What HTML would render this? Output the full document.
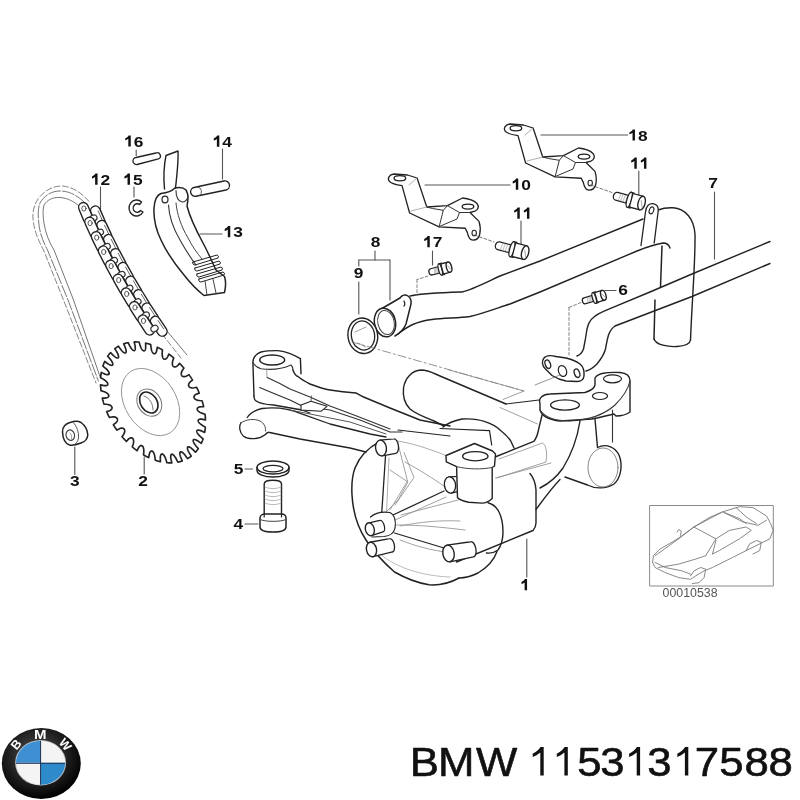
<!DOCTYPE html>
<html><head><meta charset="utf-8"><style>
html,body{margin:0;padding:0;background:#fff;width:800px;height:800px;overflow:hidden}
svg{position:absolute;left:0;top:0;will-change:transform}
</style></head><body>
<svg width="800" height="800" viewBox="0 0 800 800">
<defs>
<radialGradient id="ring" cx="0.45" cy="0.4" r="0.6">
<stop offset="0" stop-color="#555"/><stop offset="0.7" stop-color="#1a1a1a"/><stop offset="1" stop-color="#000"/>
</radialGradient>
</defs>
<!-- DIAGRAM -->
<g id="diag" stroke-linecap="round" stroke-linejoin="round" font-family="Liberation Sans" font-weight="bold" fill="#111">
<path d="M130.76,135.50 L130.76,146.60 L128.32,146.60 L128.32,138.85 C127.37,139.55 126.33,140.01 125.20,140.32 L125.20,138.38 C126.68,137.76 127.98,136.83 128.59,135.50 Z" fill="#111" stroke="none"/>
<text x="0" y="0" font-size="15.5" transform="translate(133.72 146.60) scale(1.12 1)">6</text>
<path d="M219.31,135.60 L219.31,146.70 L216.87,146.70 L216.87,138.95 C215.92,139.65 214.88,140.11 213.75,140.42 L213.75,138.48 C215.23,137.86 216.53,136.94 217.14,135.60 Z" fill="#111" stroke="none"/>
<text x="0" y="0" font-size="15.5" transform="translate(222.27 146.70) scale(1.12 1)">4</text>
<path d="M97.56,173.60 L97.56,184.70 L95.12,184.70 L95.12,176.95 C94.17,177.65 93.13,178.11 92.00,178.42 L92.00,176.48 C93.48,175.86 94.78,174.94 95.39,173.60 Z" fill="#111" stroke="none"/>
<text x="0" y="0" font-size="15.5" transform="translate(100.52 184.70) scale(1.12 1)">2</text>
<path d="M129.96,173.60 L129.96,184.70 L127.52,184.70 L127.52,176.95 C126.57,177.65 125.53,178.11 124.40,178.42 L124.40,176.48 C125.88,175.86 127.18,174.94 127.79,173.60 Z" fill="#111" stroke="none"/>
<text x="0" y="0" font-size="15.5" transform="translate(132.92 184.70) scale(1.12 1)">5</text>
<path d="M230.26,226.10 L230.26,237.20 L227.82,237.20 L227.82,229.45 C226.87,230.15 225.83,230.61 224.70,230.92 L224.70,228.98 C226.18,228.36 227.48,227.44 228.09,226.10 Z" fill="#111" stroke="none"/>
<text x="0" y="0" font-size="15.5" transform="translate(233.22 237.20) scale(1.12 1)">3</text>
<text x="0" y="0" font-size="15.5" transform="translate(69.88 486.20) scale(1.12 1)">3</text>
<text x="0" y="0" font-size="15.5" transform="translate(138.18 486.20) scale(1.12 1)">2</text>
<text x="0" y="0" font-size="15.5" transform="translate(233.68 473.70) scale(1.12 1)">5</text>
<text x="0" y="0" font-size="15.5" transform="translate(233.48 528.70) scale(1.12 1)">4</text>
<path d="M527.06,579.10 L527.06,590.20 L524.62,590.20 L524.62,582.45 C523.67,583.15 522.63,583.61 521.50,583.92 L521.50,581.99 C522.98,581.37 524.28,580.44 524.89,579.10 Z" fill="#111" stroke="none"/>
<text x="0" y="0" font-size="15.5" transform="translate(370.68 247.20) scale(1.12 1)">8</text>
<text x="0" y="0" font-size="15.5" transform="translate(353.68 278.20) scale(1.12 1)">9</text>
<path d="M429.76,236.10 L429.76,247.20 L427.32,247.20 L427.32,239.45 C426.37,240.15 425.33,240.61 424.20,240.92 L424.20,238.98 C425.68,238.36 426.98,237.44 427.59,236.10 Z" fill="#111" stroke="none"/>
<text x="0" y="0" font-size="15.5" transform="translate(432.72 247.20) scale(1.12 1)">7</text>
<path d="M518.26,178.60 L518.26,189.70 L515.82,189.70 L515.82,181.95 C514.87,182.65 513.83,183.11 512.70,183.42 L512.70,181.48 C514.18,180.86 515.48,179.94 516.09,178.60 Z" fill="#111" stroke="none"/>
<text x="0" y="0" font-size="15.5" transform="translate(521.22 189.70) scale(1.12 1)">0</text>
<path d="M519.76,207.60 L519.76,218.70 L517.32,218.70 L517.32,210.95 C516.37,211.65 515.33,212.11 514.20,212.42 L514.20,210.48 C515.68,209.86 516.98,208.94 517.59,207.60 Z" fill="#111" stroke="none"/>
<path d="M529.41,207.60 L529.41,218.70 L526.98,218.70 L526.98,210.95 C526.02,211.65 524.98,212.11 523.85,212.42 L523.85,210.48 C525.33,209.86 526.63,208.94 527.24,207.60 Z" fill="#111" stroke="none"/>
<path d="M634.96,129.50 L634.96,140.60 L632.52,140.60 L632.52,132.85 C631.57,133.55 630.53,134.01 629.40,134.32 L629.40,132.38 C630.88,131.76 632.18,130.83 632.79,129.50 Z" fill="#111" stroke="none"/>
<text x="0" y="0" font-size="15.5" transform="translate(637.92 140.60) scale(1.12 1)">8</text>
<path d="M636.76,157.60 L636.76,168.70 L634.32,168.70 L634.32,160.95 C633.37,161.65 632.33,162.11 631.20,162.42 L631.20,160.48 C632.68,159.86 633.98,158.94 634.59,157.60 Z" fill="#111" stroke="none"/>
<path d="M646.41,157.60 L646.41,168.70 L643.98,168.70 L643.98,160.95 C643.02,161.65 641.98,162.11 640.85,162.42 L640.85,160.48 C642.33,159.86 643.63,158.94 644.24,157.60 Z" fill="#111" stroke="none"/>
<text x="0" y="0" font-size="15.5" transform="translate(708.18 188.20) scale(1.12 1)">7</text>
<text x="0" y="0" font-size="15.5" transform="translate(618.18 294.70) scale(1.12 1)">6</text>
<line x1="222.5" y1="149" x2="222.5" y2="179" stroke="#555" stroke-width="1.1" />
<line x1="200" y1="234" x2="222" y2="234" stroke="#555" stroke-width="1.1" />
<line x1="74.8" y1="447" x2="74.8" y2="474.5" stroke="#555" stroke-width="1.1" />
<line x1="144.2" y1="457" x2="144.2" y2="474" stroke="#555" stroke-width="1.1" />
<line x1="245" y1="469" x2="252.5" y2="469" stroke="#555" stroke-width="1.1" />
<line x1="245" y1="524" x2="258" y2="524" stroke="#555" stroke-width="1.1" />
<line x1="526.8" y1="539" x2="526.8" y2="577" stroke="#555" stroke-width="1.1" />
<line x1="714.5" y1="192" x2="714.5" y2="259" stroke="#555" stroke-width="1.1" />
<line x1="605" y1="290.5" x2="616" y2="290.5" stroke="#555" stroke-width="1.1" />
<line x1="425" y1="185" x2="510" y2="185" stroke="#555" stroke-width="1.1" />
<line x1="521" y1="221" x2="521" y2="244" stroke="#555" stroke-width="1.1" />
<line x1="432.5" y1="251" x2="432.5" y2="265" stroke="#555" stroke-width="1.1" />
<line x1="541" y1="135" x2="627.5" y2="135" stroke="#555" stroke-width="1.1" />
<line x1="638.8" y1="171" x2="638.8" y2="195" stroke="#555" stroke-width="1.1" />
<line x1="375" y1="251" x2="375" y2="260" stroke="#555" stroke-width="1.1" />
<line x1="358.8" y1="260" x2="390" y2="260" stroke="#555" stroke-width="1.1" />
<line x1="358.8" y1="260" x2="358.8" y2="266" stroke="#555" stroke-width="1.1" />
<line x1="358.8" y1="282" x2="358.8" y2="314" stroke="#555" stroke-width="1.1" />
<line x1="390" y1="260" x2="390" y2="300" stroke="#555" stroke-width="1.1" />
<line x1="136.2" y1="150" x2="136.2" y2="155.5" stroke="#555" stroke-width="1.1" />
<line x1="134" y1="187" x2="134" y2="197" stroke="#555" stroke-width="1.1" />
<line x1="100.5" y1="187" x2="100.5" y2="212" stroke="#555" stroke-width="1.1" />
<path d="M136,157.5 L156,153 A2.9,2.9 0 0 1 158.5,158.8 L137,164.5 A3.5,3.5 0 0 1 136,157.5 Z" fill="none" stroke="#222" stroke-width="1.3" />
<path d="M141.5,202 A7.5,8 0 1 0 143,212 M141.5,202 L139.5,204.5 A4,4.3 0 1 0 140.5,210.5 L143,212" fill="none" stroke="#222" stroke-width="1.4" />
<path d="M194,187.5 L224,181 A4.5,4.6 0 0 1 226,190 L196,196.2 A4.3,4.4 0 0 1 194,187.5 Z" fill="none" stroke="#222" stroke-width="1.4" />
<path d="M197.5,187 A4.2,4.6 0 0 1 199.5,195.5" fill="none" stroke="#555" stroke-width="1.0" />
<path d="M89,201.5 C82,193 72,186.5 62,186 C52,186 44,191 38,199 C34,205 32.5,212 33,218 C33.5,228 37,238 43.5,250 L63.5,300 L96,383" fill="none" stroke="#777" stroke-width="0.9" stroke-dasharray="6 2.5"/>
<path d="M85,203 C78,196 70,191 60,191 C51,191 44,196 40,203 C38,208 38,214 38.5,220 C39,230 42,240 47.5,250 L68,300 L98.4,381" fill="none" stroke="#666" stroke-width="0.9" stroke-dasharray="12 2"/>
<path d="M80,207 C75,202 68,198 60,197.5 C53,197 47,200 44,205 C42.5,210 43,217 44,223 C45.5,233 49,242 54,250 L73.5,300 L100.5,378" fill="none" stroke="#666" stroke-width="0.9" />
<path d="M162,334 L181,358" fill="none" stroke="#777" stroke-width="0.9" stroke-dasharray="6 2.5"/>
<path d="M167,331 L187,355" fill="none" stroke="#666" stroke-width="0.9" />
<rect x="86.9" y="211.7" width="22" height="9.6" rx="4.8" fill="#fff" stroke="#222" stroke-width="1.4" transform="rotate(66.5 97.9 216.5)"/>
<path d="M98.2,210.9 L102.2,220.1" stroke="#555" stroke-width="0.9"/>
<rect x="74.8" y="208.3" width="22" height="9.6" rx="4.8" fill="#fff" stroke="#222" stroke-width="1.4" transform="rotate(67.2 85.8 213.1)"/>
<ellipse cx="93.3" cy="218.1" rx="3.0" ry="3.8" fill="#fff" stroke="#333" stroke-width="1.2" transform="rotate(67.2 93.3 218.1)"/>
<ellipse cx="83.9" cy="208.5" rx="2.1" ry="2.6" fill="none" stroke="#444" stroke-width="0.9"/>
<rect x="93.4" y="226.0" width="22" height="9.6" rx="4.8" fill="#fff" stroke="#222" stroke-width="1.4" transform="rotate(65.0 104.4 230.8)"/>
<path d="M104.5,225.2 L108.8,234.3" stroke="#555" stroke-width="0.9"/>
<rect x="81.2" y="222.9" width="22" height="9.6" rx="4.8" fill="#fff" stroke="#222" stroke-width="1.4" transform="rotate(65.7 92.2 227.7)"/>
<ellipse cx="99.8" cy="232.5" rx="3.0" ry="3.8" fill="#fff" stroke="#333" stroke-width="1.2" transform="rotate(65.7 99.8 232.5)"/>
<ellipse cx="90.1" cy="223.1" rx="2.1" ry="2.6" fill="none" stroke="#444" stroke-width="0.9"/>
<rect x="100.2" y="240.1" width="22" height="9.6" rx="4.8" fill="#fff" stroke="#222" stroke-width="1.4" transform="rotate(63.5 111.2 244.9)"/>
<path d="M111.2,239.3 L115.7,248.3" stroke="#555" stroke-width="0.9"/>
<rect x="87.9" y="237.3" width="22" height="9.6" rx="4.8" fill="#fff" stroke="#222" stroke-width="1.4" transform="rotate(64.2 98.9 242.1)"/>
<ellipse cx="106.6" cy="246.8" rx="3.0" ry="3.8" fill="#fff" stroke="#333" stroke-width="1.2" transform="rotate(64.2 106.6 246.8)"/>
<ellipse cx="96.7" cy="237.6" rx="2.1" ry="2.6" fill="none" stroke="#444" stroke-width="0.9"/>
<rect x="107.4" y="254.1" width="22" height="9.6" rx="4.8" fill="#fff" stroke="#222" stroke-width="1.4" transform="rotate(62.2 118.4 258.9)"/>
<path d="M118.2,253.3 L122.9,262.2" stroke="#555" stroke-width="0.9"/>
<rect x="95.0" y="251.6" width="22" height="9.6" rx="4.8" fill="#fff" stroke="#222" stroke-width="1.4" transform="rotate(62.9 106.0 256.4)"/>
<ellipse cx="113.8" cy="260.8" rx="3.0" ry="3.8" fill="#fff" stroke="#333" stroke-width="1.2" transform="rotate(62.9 113.8 260.8)"/>
<ellipse cx="103.7" cy="252.0" rx="2.1" ry="2.6" fill="none" stroke="#444" stroke-width="0.9"/>
<rect x="114.9" y="267.9" width="22" height="9.6" rx="4.8" fill="#fff" stroke="#222" stroke-width="1.4" transform="rotate(60.8 125.9 272.7)"/>
<path d="M125.6,267.1 L130.5,275.8" stroke="#555" stroke-width="0.9"/>
<rect x="102.5" y="265.7" width="22" height="9.6" rx="4.8" fill="#fff" stroke="#222" stroke-width="1.4" transform="rotate(61.5 113.5 270.5)"/>
<ellipse cx="121.4" cy="274.7" rx="3.0" ry="3.8" fill="#fff" stroke="#333" stroke-width="1.2" transform="rotate(61.5 121.4 274.7)"/>
<ellipse cx="111.1" cy="266.1" rx="2.1" ry="2.6" fill="none" stroke="#444" stroke-width="0.9"/>
<rect x="122.7" y="281.5" width="22" height="9.6" rx="4.8" fill="#fff" stroke="#222" stroke-width="1.4" transform="rotate(59.5 133.7 286.3)"/>
<path d="M133.3,280.7 L138.4,289.4" stroke="#555" stroke-width="0.9"/>
<rect x="110.2" y="279.6" width="22" height="9.6" rx="4.8" fill="#fff" stroke="#222" stroke-width="1.4" transform="rotate(60.2 121.2 284.4)"/>
<ellipse cx="129.2" cy="288.5" rx="3.0" ry="3.8" fill="#fff" stroke="#333" stroke-width="1.2" transform="rotate(60.2 129.2 288.5)"/>
<ellipse cx="118.7" cy="280.1" rx="2.1" ry="2.6" fill="none" stroke="#444" stroke-width="0.9"/>
<rect x="130.8" y="295.0" width="22" height="9.6" rx="4.8" fill="#fff" stroke="#222" stroke-width="1.4" transform="rotate(58.3 141.8 299.8)"/>
<path d="M141.3,294.2 L146.5,302.7" stroke="#555" stroke-width="0.9"/>
<rect x="118.3" y="293.3" width="22" height="9.6" rx="4.8" fill="#fff" stroke="#222" stroke-width="1.4" transform="rotate(58.9 129.3 298.1)"/>
<ellipse cx="137.4" cy="302.0" rx="3.0" ry="3.8" fill="#fff" stroke="#333" stroke-width="1.2" transform="rotate(58.9 137.4 302.0)"/>
<ellipse cx="126.7" cy="293.9" rx="2.1" ry="2.6" fill="none" stroke="#444" stroke-width="0.9"/>
<rect x="139.2" y="308.3" width="22" height="9.6" rx="4.8" fill="#fff" stroke="#222" stroke-width="1.4" transform="rotate(57.1 150.2 313.1)"/>
<path d="M149.6,307.5 L155.0,315.9" stroke="#555" stroke-width="0.9"/>
<rect x="126.6" y="306.9" width="22" height="9.6" rx="4.8" fill="#fff" stroke="#222" stroke-width="1.4" transform="rotate(57.7 137.6 311.7)"/>
<ellipse cx="145.8" cy="315.4" rx="3.0" ry="3.8" fill="#fff" stroke="#333" stroke-width="1.2" transform="rotate(57.7 145.8 315.4)"/>
<ellipse cx="135.0" cy="307.5" rx="2.1" ry="2.6" fill="none" stroke="#444" stroke-width="0.9"/>
<rect x="147.8" y="321.4" width="22" height="9.6" rx="4.8" fill="#fff" stroke="#222" stroke-width="1.4" transform="rotate(56.0 158.8 326.2)"/>
<path d="M158.1,320.6 L163.7,328.9" stroke="#555" stroke-width="0.9"/>
<rect x="135.3" y="320.2" width="22" height="9.6" rx="4.8" fill="#fff" stroke="#222" stroke-width="1.4" transform="rotate(56.5 146.3 325.0)"/>
<ellipse cx="154.5" cy="328.6" rx="3.0" ry="3.8" fill="#fff" stroke="#333" stroke-width="1.2" transform="rotate(56.5 154.5 328.6)"/>
<ellipse cx="143.5" cy="320.9" rx="2.1" ry="2.6" fill="none" stroke="#444" stroke-width="0.9"/>
<path d="M116.57,347.36 L116.74,347.25 L116.91,347.14 L117.09,347.03 L117.26,346.92 L117.43,346.82 L117.60,346.71 L117.78,346.60 L117.95,346.50 L118.13,346.40 L118.31,346.29 L118.48,346.19 L120.35,348.86 L121.40,350.22 L122.10,351.01 L122.64,351.57 L123.10,351.98 L123.50,352.30 L123.85,352.55 L124.17,352.73 L124.45,352.87 L124.71,352.96 L124.94,353.01 L125.15,353.03 L125.34,353.01 L125.51,352.95 L125.67,352.86 L125.80,352.74 L125.91,352.58 L126.00,352.38 L126.08,352.14 L126.13,351.85 L126.15,351.51 L126.14,351.11 L126.10,350.64 L126.00,350.06 L125.84,349.33 L125.56,348.36 L124.97,346.78 L123.72,343.84 L123.92,343.77 L124.11,343.71 L124.31,343.64 L124.51,343.58 L124.71,343.52 L124.91,343.46 L125.11,343.40 L125.31,343.34 L125.51,343.28 L125.71,343.22 L125.91,343.17 L126.11,343.11 L126.31,343.06 L126.52,343.01 L126.72,342.96 L126.93,342.91 L127.13,342.86 L127.34,342.81 L127.54,342.77 L127.75,342.72 L127.96,342.68 L128.16,342.64 L129.58,345.53 L130.41,347.04 L130.98,347.94 L131.44,348.58 L131.84,349.08 L132.20,349.48 L132.52,349.79 L132.81,350.04 L133.08,350.24 L133.33,350.40 L133.57,350.51 L133.79,350.58 L133.99,350.61 L134.18,350.61 L134.36,350.57 L134.53,350.49 L134.68,350.38 L134.82,350.23 L134.94,350.03 L135.05,349.79 L135.15,349.49 L135.22,349.13 L135.27,348.69 L135.29,348.14 L135.27,347.45 L135.17,346.50 L134.88,344.92 L134.16,341.95 L134.38,341.94 L134.60,341.94 L134.82,341.93 L135.05,341.93 L135.27,341.93 L135.49,341.93 L135.71,341.93 L135.94,341.93 L136.16,341.93 L136.38,341.94 L136.61,341.94 L136.83,341.95 L137.05,341.96 L137.28,341.96 L137.50,341.97 L137.73,341.99 L137.96,342.00 L138.18,342.01 L138.41,342.03 L138.63,342.04 L138.86,342.06 L139.09,342.08 L139.99,345.06 L140.55,346.64 L140.97,347.60 L141.32,348.30 L141.64,348.85 L141.93,349.30 L142.21,349.67 L142.47,349.98 L142.71,350.23 L142.94,350.44 L143.17,350.60 L143.39,350.72 L143.59,350.81 L143.80,350.86 L143.99,350.87 L144.18,350.85 L144.36,350.79 L144.54,350.69 L144.71,350.55 L144.88,350.36 L145.04,350.12 L145.19,349.81 L145.34,349.43 L145.47,348.95 L145.59,348.32 L145.68,347.44 L145.69,345.95 L145.55,343.09 L145.78,343.15 L146.02,343.20 L146.25,343.26 L146.48,343.31 L146.72,343.37 L146.95,343.43 L147.19,343.49 L147.42,343.55 L147.65,343.62 L147.89,343.68 L148.12,343.75 L148.36,343.81 L148.59,343.88 L148.83,343.95 L149.06,344.02 L149.30,344.09 L149.53,344.17 L149.77,344.24 L150.00,344.31 L150.24,344.39 L150.48,344.47 L150.71,344.55 L151.05,347.46 L151.32,349.03 L151.56,350.00 L151.79,350.73 L152.01,351.31 L152.23,351.79 L152.44,352.20 L152.65,352.55 L152.85,352.84 L153.06,353.09 L153.26,353.29 L153.47,353.46 L153.67,353.59 L153.87,353.69 L154.07,353.76 L154.28,353.79 L154.48,353.79 L154.69,353.74 L154.90,353.66 L155.11,353.54 L155.33,353.37 L155.56,353.14 L155.79,352.83 L156.02,352.44 L156.28,351.90 L156.55,351.14 L156.87,349.81 L157.31,347.21 L157.54,347.32 L157.78,347.43 L158.01,347.55 L158.25,347.66 L158.48,347.78 L158.72,347.89 L158.95,348.01 L159.18,348.13 L159.42,348.25 L159.65,348.37 L159.89,348.49 L160.12,348.62 L160.35,348.74 L160.59,348.87 L160.82,348.99 L161.05,349.12 L161.29,349.25 L161.52,349.38 L161.75,349.51 L161.98,349.64 L162.22,349.78 L162.45,349.91 L162.21,352.62 L162.17,354.10 L162.23,355.04 L162.32,355.75 L162.43,356.33 L162.56,356.82 L162.70,357.25 L162.85,357.61 L163.01,357.93 L163.17,358.21 L163.34,358.45 L163.52,358.65 L163.71,358.83 L163.90,358.97 L164.10,359.08 L164.31,359.17 L164.53,359.22 L164.75,359.24 L164.99,359.23 L165.24,359.17 L165.51,359.08 L165.79,358.93 L166.09,358.72 L166.43,358.43 L166.80,358.02 L167.25,357.41 L167.86,356.31 L168.85,354.09 L169.08,354.25 L169.30,354.42 L169.52,354.58 L169.75,354.75 L169.97,354.92 L170.19,355.09 L170.42,355.26 L170.64,355.43 L170.86,355.60 L171.08,355.77 L171.30,355.94 L171.52,356.12 L171.75,356.29 L171.97,356.47 L172.18,356.65 L172.40,356.82 L172.62,357.00 L172.84,357.18 L173.06,357.36 L173.28,357.55 L173.49,357.73 L173.71,357.91 L172.90,360.27 L172.56,361.59 L172.43,362.44 L172.38,363.11 L172.38,363.66 L172.41,364.14 L172.47,364.55 L172.56,364.92 L172.66,365.25 L172.77,365.54 L172.90,365.81 L173.05,366.04 L173.21,366.25 L173.38,366.43 L173.57,366.58 L173.78,366.71 L173.99,366.82 L174.23,366.90 L174.48,366.95 L174.76,366.97 L175.06,366.96 L175.38,366.90 L175.75,366.80 L176.16,366.63 L176.64,366.36 L177.23,365.94 L178.10,365.11 L179.60,363.40 L179.80,363.60 L180.01,363.81 L180.21,364.02 L180.41,364.23 L180.61,364.44 L180.81,364.65 L181.01,364.87 L181.21,365.08 L181.41,365.29 L181.61,365.51 L181.80,365.72 L182.00,365.94 L182.20,366.16 L182.39,366.37 L182.59,366.59 L182.78,366.81 L182.98,367.03 L183.17,367.25 L183.36,367.47 L183.55,367.70 L183.75,367.92 L183.94,368.14 L182.60,370.03 L181.97,371.12 L181.65,371.85 L181.47,372.44 L181.35,372.93 L181.29,373.37 L181.27,373.76 L181.28,374.11 L181.32,374.43 L181.38,374.73 L181.47,375.00 L181.57,375.25 L181.70,375.48 L181.85,375.69 L182.01,375.88 L182.20,376.05 L182.41,376.20 L182.64,376.34 L182.90,376.45 L183.18,376.55 L183.50,376.62 L183.85,376.66 L184.26,376.66 L184.73,376.62 L185.28,376.51 L186.00,376.29 L187.08,375.79 L189.01,374.66 L189.19,374.90 L189.36,375.14 L189.53,375.38 L189.70,375.63 L189.86,375.87 L190.03,376.11 L190.20,376.36 L190.36,376.60 L190.53,376.85 L190.69,377.10 L190.86,377.34 L191.02,377.59 L191.18,377.84 L191.35,378.09 L191.51,378.33 L191.67,378.58 L191.83,378.83 L191.98,379.08 L192.14,379.33 L192.30,379.58 L192.45,379.84 L192.61,380.09 L190.81,381.42 L189.93,382.23 L189.44,382.80 L189.13,383.27 L188.91,383.68 L188.75,384.06 L188.65,384.40 L188.59,384.72 L188.56,385.02 L188.57,385.30 L188.60,385.57 L188.66,385.82 L188.75,386.06 L188.86,386.29 L189.00,386.50 L189.16,386.71 L189.35,386.90 L189.56,387.09 L189.81,387.26 L190.09,387.42 L190.41,387.57 L190.78,387.70 L191.20,387.81 L191.70,387.90 L192.31,387.96 L193.11,387.95 L194.36,387.80 L196.62,387.31 L196.75,387.57 L196.88,387.84 L197.01,388.10 L197.14,388.36 L197.27,388.63 L197.40,388.89 L197.52,389.16 L197.65,389.42 L197.77,389.69 L197.89,389.95 L198.02,390.22 L198.14,390.48 L198.26,390.75 L198.38,391.02 L198.49,391.28 L198.61,391.55 L198.73,391.82 L198.84,392.08 L198.96,392.35 L199.07,392.62 L199.19,392.89 L199.30,393.15 L197.13,393.86 L196.03,394.34 L195.41,394.72 L194.98,395.06 L194.66,395.37 L194.42,395.67 L194.24,395.95 L194.11,396.22 L194.02,396.48 L193.97,396.73 L193.95,396.98 L193.97,397.22 L194.01,397.46 L194.08,397.69 L194.18,397.92 L194.30,398.15 L194.46,398.38 L194.65,398.60 L194.88,398.82 L195.14,399.04 L195.45,399.26 L195.81,399.48 L196.23,399.70 L196.74,399.91 L197.37,400.13 L198.21,400.34 L199.56,400.54 L202.04,400.72 L202.13,400.99 L202.21,401.26 L202.29,401.53 L202.38,401.80 L202.46,402.07 L202.53,402.35 L202.61,402.62 L202.69,402.89 L202.77,403.16 L202.84,403.43 L202.91,403.70 L202.99,403.97 L203.06,404.25 L203.13,404.52 L203.20,404.79 L203.27,405.06 L203.34,405.33 L203.41,405.60 L203.47,405.87 L203.54,406.14 L203.60,406.41 L203.66,406.68 L201.24,406.73 L199.98,406.86 L199.24,407.04 L198.72,407.22 L198.32,407.41 L198.01,407.61 L197.77,407.81 L197.57,408.02 L197.43,408.23 L197.32,408.44 L197.25,408.66 L197.21,408.88 L197.21,409.11 L197.24,409.34 L197.29,409.57 L197.38,409.81 L197.50,410.05 L197.65,410.31 L197.85,410.57 L198.08,410.83 L198.36,411.11 L198.69,411.41 L199.09,411.72 L199.58,412.05 L200.20,412.42 L201.04,412.83 L202.42,413.38 L205.01,414.21 L205.04,414.48 L205.07,414.74 L205.10,415.01 L205.13,415.27 L205.16,415.54 L205.19,415.80 L205.22,416.07 L205.24,416.33 L205.27,416.60 L205.29,416.86 L205.31,417.12 L205.33,417.39 L205.35,417.65 L205.37,417.91 L205.39,418.17 L205.41,418.44 L205.42,418.70 L205.44,418.96 L205.45,419.22 L205.47,419.48 L205.48,419.74 L205.49,420.00 L202.92,419.38 L201.57,419.16 L200.76,419.11 L200.17,419.14 L199.71,419.20 L199.34,419.30 L199.05,419.41 L198.80,419.54 L198.60,419.69 L198.45,419.85 L198.33,420.03 L198.25,420.22 L198.19,420.42 L198.17,420.63 L198.19,420.86 L198.23,421.09 L198.31,421.35 L198.42,421.61 L198.56,421.90 L198.75,422.20 L198.99,422.53 L199.28,422.88 L199.64,423.27 L200.09,423.70 L200.67,424.20 L201.47,424.80 L202.81,425.66 L205.36,427.11 L205.34,427.36 L205.32,427.61 L205.30,427.85 L205.28,428.10 L205.25,428.34 L205.23,428.59 L205.20,428.83 L205.17,429.08 L205.14,429.32 L205.12,429.56 L205.08,429.81 L205.05,430.05 L205.02,430.29 L204.99,430.53 L204.95,430.77 L204.92,431.01 L204.88,431.25 L204.84,431.49 L204.80,431.72 L204.76,431.96 L204.72,432.20 L204.68,432.43 L202.11,431.18 L200.73,430.62 L199.88,430.35 L199.26,430.22 L198.76,430.15 L198.35,430.13 L198.02,430.16 L197.73,430.21 L197.49,430.29 L197.30,430.39 L197.13,430.52 L197.01,430.66 L196.91,430.83 L196.85,431.01 L196.81,431.22 L196.81,431.44 L196.84,431.69 L196.90,431.96 L197.00,432.25 L197.14,432.58 L197.32,432.94 L197.55,433.33 L197.85,433.78 L198.24,434.29 L198.75,434.89 L199.46,435.64 L200.70,436.78 L203.09,438.77 L203.02,438.99 L202.95,439.21 L202.87,439.42 L202.80,439.64 L202.72,439.85 L202.64,440.06 L202.57,440.27 L202.49,440.48 L202.41,440.70 L202.33,440.91 L202.25,441.11 L202.16,441.32 L202.08,441.53 L202.00,441.74 L201.91,441.94 L201.82,442.15 L201.74,442.35 L201.65,442.55 L201.56,442.76 L201.47,442.96 L201.38,443.16 L201.28,443.36 L198.83,441.54 L197.49,440.66 L196.66,440.19 L196.03,439.90 L195.52,439.70 L195.09,439.58 L194.73,439.51 L194.42,439.48 L194.15,439.48 L193.92,439.52 L193.73,439.59 L193.56,439.69 L193.43,439.81 L193.32,439.96 L193.25,440.13 L193.20,440.33 L193.18,440.56 L193.19,440.82 L193.23,441.11 L193.31,441.44 L193.42,441.81 L193.59,442.23 L193.81,442.71 L194.11,443.27 L194.53,443.95 L195.13,444.82 L196.20,446.18 L198.31,448.61 L198.19,448.79 L198.07,448.96 L197.94,449.13 L197.82,449.30 L197.70,449.48 L197.57,449.65 L197.45,449.81 L197.32,449.98 L197.20,450.15 L197.07,450.32 L196.94,450.48 L196.81,450.64 L196.68,450.81 L196.55,450.97 L196.41,451.13 L196.28,451.29 L196.15,451.45 L196.01,451.61 L195.88,451.77 L195.74,451.92 L195.60,452.08 L195.46,452.23 L193.25,449.93 L192.02,448.78 L191.24,448.14 L190.63,447.70 L190.14,447.39 L189.72,447.16 L189.35,447.00 L189.03,446.89 L188.75,446.82 L188.50,446.79 L188.28,446.80 L188.08,446.84 L187.92,446.92 L187.78,447.02 L187.66,447.16 L187.57,447.32 L187.50,447.52 L187.45,447.76 L187.44,448.03 L187.45,448.35 L187.50,448.71 L187.59,449.13 L187.73,449.62 L187.93,450.21 L188.23,450.93 L188.68,451.87 L189.53,453.38 L191.25,456.13 L191.09,456.26 L190.93,456.38 L190.76,456.50 L190.60,456.62 L190.43,456.74 L190.27,456.86 L190.10,456.98 L189.93,457.09 L189.77,457.21 L189.60,457.32 L189.43,457.44 L189.26,457.55 L189.09,457.66 L188.91,457.77 L188.74,457.88 L188.57,457.98 L188.40,458.09 L188.22,458.20 L188.05,458.30 L187.87,458.40 L187.69,458.51 L187.52,458.61 L185.65,455.94 L184.60,454.58 L183.90,453.79 L183.36,453.23 L182.90,452.82 L182.50,452.50 L182.15,452.25 L181.83,452.07 L181.55,451.93 L181.29,451.84 L181.06,451.79 L180.85,451.77 L180.66,451.79 L180.49,451.85 L180.33,451.94 L180.20,452.06 L180.09,452.22 L180.00,452.42 L179.92,452.66 L179.87,452.95 L179.85,453.29 L179.86,453.69 L179.90,454.16 L180.00,454.74 L180.16,455.47 L180.44,456.44 L181.03,458.02 L182.28,460.96 L182.08,461.03 L181.89,461.09 L181.69,461.16 L181.49,461.22 L181.29,461.28 L181.09,461.34 L180.89,461.40 L180.69,461.46 L180.49,461.52 L180.29,461.58 L180.09,461.63 L179.89,461.69 L179.69,461.74 L179.48,461.79 L179.28,461.84 L179.07,461.89 L178.87,461.94 L178.66,461.99 L178.46,462.03 L178.25,462.08 L178.04,462.12 L177.84,462.16 L176.42,459.27 L175.59,457.76 L175.02,456.86 L174.56,456.22 L174.16,455.72 L173.80,455.32 L173.48,455.01 L173.19,454.76 L172.92,454.56 L172.67,454.40 L172.43,454.29 L172.21,454.22 L172.01,454.19 L171.82,454.19 L171.64,454.23 L171.47,454.31 L171.32,454.42 L171.18,454.57 L171.06,454.77 L170.95,455.01 L170.85,455.31 L170.78,455.67 L170.73,456.11 L170.71,456.66 L170.73,457.35 L170.83,458.30 L171.12,459.88 L171.84,462.85 L171.62,462.86 L171.40,462.86 L171.18,462.87 L170.95,462.87 L170.73,462.87 L170.51,462.87 L170.29,462.87 L170.06,462.87 L169.84,462.87 L169.62,462.86 L169.39,462.86 L169.17,462.85 L168.95,462.84 L168.72,462.84 L168.50,462.83 L168.27,462.81 L168.04,462.80 L167.82,462.79 L167.59,462.77 L167.37,462.76 L167.14,462.74 L166.91,462.72 L166.01,459.74 L165.45,458.16 L165.03,457.20 L164.68,456.50 L164.36,455.95 L164.07,455.50 L163.79,455.13 L163.53,454.82 L163.29,454.57 L163.06,454.36 L162.83,454.20 L162.61,454.08 L162.41,453.99 L162.20,453.94 L162.01,453.93 L161.82,453.95 L161.64,454.01 L161.46,454.11 L161.29,454.25 L161.12,454.44 L160.96,454.68 L160.81,454.99 L160.66,455.37 L160.53,455.85 L160.41,456.48 L160.32,457.36 L160.31,458.85 L160.45,461.71 L160.22,461.65 L159.98,461.60 L159.75,461.54 L159.52,461.49 L159.28,461.43 L159.05,461.37 L158.81,461.31 L158.58,461.25 L158.35,461.18 L158.11,461.12 L157.88,461.05 L157.64,460.99 L157.41,460.92 L157.17,460.85 L156.94,460.78 L156.70,460.71 L156.47,460.63 L156.23,460.56 L156.00,460.49 L155.76,460.41 L155.52,460.33 L155.29,460.25 L154.95,457.34 L154.68,455.77 L154.44,454.80 L154.21,454.07 L153.99,453.49 L153.77,453.01 L153.56,452.60 L153.35,452.25 L153.15,451.96 L152.94,451.71 L152.74,451.51 L152.53,451.34 L152.33,451.21 L152.13,451.11 L151.93,451.04 L151.72,451.01 L151.52,451.01 L151.31,451.06 L151.10,451.14 L150.89,451.26 L150.67,451.43 L150.44,451.66 L150.21,451.97 L149.98,452.36 L149.72,452.90 L149.45,453.66 L149.13,454.99 L148.69,457.59 L148.46,457.48 L148.22,457.37 L147.99,457.25 L147.75,457.14 L147.52,457.02 L147.28,456.91 L147.05,456.79 L146.82,456.67 L146.58,456.55 L146.35,456.43 L146.11,456.31 L145.88,456.18 L145.65,456.06 L145.41,455.93 L145.18,455.81 L144.95,455.68 L144.71,455.55 L144.48,455.42 L144.25,455.29 L144.02,455.16 L143.78,455.02 L143.55,454.89 L143.79,452.18 L143.83,450.70 L143.77,449.76 L143.68,449.05 L143.57,448.47 L143.44,447.98 L143.30,447.55 L143.15,447.19 L142.99,446.87 L142.83,446.59 L142.66,446.35 L142.48,446.15 L142.29,445.97 L142.10,445.83 L141.90,445.72 L141.69,445.63 L141.47,445.58 L141.25,445.56 L141.01,445.57 L140.76,445.63 L140.49,445.72 L140.21,445.87 L139.91,446.08 L139.57,446.37 L139.20,446.78 L138.75,447.39 L138.14,448.49 L137.15,450.71 L136.92,450.55 L136.70,450.38 L136.48,450.22 L136.25,450.05 L136.03,449.88 L135.81,449.71 L135.58,449.54 L135.36,449.37 L135.14,449.20 L134.92,449.03 L134.70,448.86 L134.48,448.68 L134.25,448.51 L134.03,448.33 L133.82,448.15 L133.60,447.98 L133.38,447.80 L133.16,447.62 L132.94,447.44 L132.72,447.25 L132.51,447.07 L132.29,446.89 L133.10,444.53 L133.44,443.21 L133.57,442.36 L133.62,441.69 L133.62,441.14 L133.59,440.66 L133.53,440.25 L133.44,439.88 L133.34,439.55 L133.23,439.26 L133.10,438.99 L132.95,438.76 L132.79,438.55 L132.62,438.37 L132.43,438.22 L132.22,438.09 L132.01,437.98 L131.77,437.90 L131.52,437.85 L131.24,437.83 L130.94,437.84 L130.62,437.90 L130.25,438.00 L129.84,438.17 L129.36,438.44 L128.77,438.86 L127.90,439.69 L126.40,441.40 L126.20,441.20 L125.99,440.99 L125.79,440.78 L125.59,440.57 L125.39,440.36 L125.19,440.15 L124.99,439.93 L124.79,439.72 L124.59,439.51 L124.39,439.29 L124.20,439.08 L124.00,438.86 L123.80,438.64 L123.61,438.43 L123.41,438.21 L123.22,437.99 L123.02,437.77 L122.83,437.55 L122.64,437.33 L122.45,437.10 L122.25,436.88 L122.06,436.66 L123.40,434.77 L124.03,433.68 L124.35,432.95 L124.53,432.36 L124.65,431.87 L124.71,431.43 L124.73,431.04 L124.72,430.69 L124.68,430.37 L124.62,430.07 L124.53,429.80 L124.43,429.55 L124.30,429.32 L124.15,429.11 L123.99,428.92 L123.80,428.75 L123.59,428.60 L123.36,428.46 L123.10,428.35 L122.82,428.25 L122.50,428.18 L122.15,428.14 L121.74,428.14 L121.27,428.18 L120.72,428.29 L120.00,428.51 L118.92,429.01 L116.99,430.14 L116.81,429.90 L116.64,429.66 L116.47,429.42 L116.30,429.17 L116.14,428.93 L115.97,428.69 L115.80,428.44 L115.64,428.20 L115.47,427.95 L115.31,427.70 L115.14,427.46 L114.98,427.21 L114.82,426.96 L114.65,426.71 L114.49,426.47 L114.33,426.22 L114.17,425.97 L114.02,425.72 L113.86,425.47 L113.70,425.22 L113.55,424.96 L113.39,424.71 L115.19,423.38 L116.07,422.57 L116.56,422.00 L116.87,421.53 L117.09,421.12 L117.25,420.74 L117.35,420.40 L117.41,420.08 L117.44,419.78 L117.43,419.50 L117.40,419.23 L117.34,418.98 L117.25,418.74 L117.14,418.51 L117.00,418.30 L116.84,418.09 L116.65,417.90 L116.44,417.71 L116.19,417.54 L115.91,417.38 L115.59,417.23 L115.22,417.10 L114.80,416.99 L114.30,416.90 L113.69,416.84 L112.89,416.85 L111.64,417.00 L109.38,417.49 L109.25,417.23 L109.12,416.96 L108.99,416.70 L108.86,416.44 L108.73,416.17 L108.60,415.91 L108.48,415.64 L108.35,415.38 L108.23,415.11 L108.11,414.85 L107.98,414.58 L107.86,414.32 L107.74,414.05 L107.62,413.78 L107.51,413.52 L107.39,413.25 L107.27,412.98 L107.16,412.72 L107.04,412.45 L106.93,412.18 L106.81,411.91 L106.70,411.65 L108.87,410.94 L109.97,410.46 L110.59,410.08 L111.02,409.74 L111.34,409.43 L111.58,409.13 L111.76,408.85 L111.89,408.58 L111.98,408.32 L112.03,408.07 L112.05,407.82 L112.03,407.58 L111.99,407.34 L111.92,407.11 L111.82,406.88 L111.70,406.65 L111.54,406.42 L111.35,406.20 L111.12,405.98 L110.86,405.76 L110.55,405.54 L110.19,405.32 L109.77,405.10 L109.26,404.89 L108.63,404.67 L107.79,404.46 L106.44,404.26 L103.96,404.08 L103.87,403.81 L103.79,403.54 L103.71,403.27 L103.62,403.00 L103.54,402.73 L103.47,402.45 L103.39,402.18 L103.31,401.91 L103.23,401.64 L103.16,401.37 L103.09,401.10 L103.01,400.83 L102.94,400.55 L102.87,400.28 L102.80,400.01 L102.73,399.74 L102.66,399.47 L102.59,399.20 L102.53,398.93 L102.46,398.66 L102.40,398.39 L102.34,398.12 L104.76,398.07 L106.02,397.94 L106.76,397.76 L107.28,397.58 L107.68,397.39 L107.99,397.19 L108.23,396.99 L108.43,396.78 L108.57,396.57 L108.68,396.36 L108.75,396.14 L108.79,395.92 L108.79,395.69 L108.76,395.46 L108.71,395.23 L108.62,394.99 L108.50,394.75 L108.35,394.49 L108.15,394.23 L107.92,393.97 L107.64,393.69 L107.31,393.39 L106.91,393.08 L106.42,392.75 L105.80,392.38 L104.96,391.97 L103.58,391.42 L100.99,390.59 L100.96,390.32 L100.93,390.06 L100.90,389.79 L100.87,389.53 L100.84,389.26 L100.81,389.00 L100.78,388.73 L100.76,388.47 L100.73,388.20 L100.71,387.94 L100.69,387.68 L100.67,387.41 L100.65,387.15 L100.63,386.89 L100.61,386.63 L100.59,386.36 L100.58,386.10 L100.56,385.84 L100.55,385.58 L100.53,385.32 L100.52,385.06 L100.51,384.80 L103.08,385.42 L104.43,385.64 L105.24,385.69 L105.83,385.66 L106.29,385.60 L106.66,385.50 L106.95,385.39 L107.20,385.26 L107.40,385.11 L107.55,384.95 L107.67,384.77 L107.75,384.58 L107.81,384.38 L107.83,384.17 L107.81,383.94 L107.77,383.71 L107.69,383.45 L107.58,383.19 L107.44,382.90 L107.25,382.60 L107.01,382.27 L106.72,381.92 L106.36,381.53 L105.91,381.10 L105.33,380.60 L104.53,380.00 L103.19,379.14 L100.64,377.69 L100.66,377.44 L100.68,377.19 L100.70,376.95 L100.72,376.70 L100.75,376.46 L100.77,376.21 L100.80,375.97 L100.83,375.72 L100.86,375.48 L100.88,375.24 L100.92,374.99 L100.95,374.75 L100.98,374.51 L101.01,374.27 L101.05,374.03 L101.08,373.79 L101.12,373.55 L101.16,373.31 L101.20,373.08 L101.24,372.84 L101.28,372.60 L101.32,372.37 L103.89,373.62 L105.27,374.18 L106.12,374.45 L106.74,374.58 L107.24,374.65 L107.65,374.67 L107.98,374.64 L108.27,374.59 L108.51,374.51 L108.70,374.41 L108.87,374.28 L108.99,374.14 L109.09,373.97 L109.15,373.79 L109.19,373.58 L109.19,373.36 L109.16,373.11 L109.10,372.84 L109.00,372.55 L108.86,372.22 L108.68,371.86 L108.45,371.47 L108.15,371.02 L107.76,370.51 L107.25,369.91 L106.54,369.16 L105.30,368.02 L102.91,366.03 L102.98,365.81 L103.05,365.59 L103.13,365.38 L103.20,365.16 L103.28,364.95 L103.36,364.74 L103.43,364.53 L103.51,364.32 L103.59,364.10 L103.67,363.89 L103.75,363.69 L103.84,363.48 L103.92,363.27 L104.00,363.06 L104.09,362.86 L104.18,362.65 L104.26,362.45 L104.35,362.25 L104.44,362.04 L104.53,361.84 L104.62,361.64 L104.72,361.44 L107.17,363.26 L108.51,364.14 L109.34,364.61 L109.97,364.90 L110.48,365.10 L110.91,365.22 L111.27,365.29 L111.58,365.32 L111.85,365.32 L112.08,365.28 L112.27,365.21 L112.44,365.11 L112.57,364.99 L112.68,364.84 L112.75,364.67 L112.80,364.47 L112.82,364.24 L112.81,363.98 L112.77,363.69 L112.69,363.36 L112.58,362.99 L112.41,362.57 L112.19,362.09 L111.89,361.53 L111.47,360.85 L110.87,359.98 L109.80,358.62 L107.69,356.19 L107.81,356.01 L107.93,355.84 L108.06,355.67 L108.18,355.50 L108.30,355.32 L108.43,355.15 L108.55,354.99 L108.68,354.82 L108.80,354.65 L108.93,354.48 L109.06,354.32 L109.19,354.16 L109.32,353.99 L109.45,353.83 L109.59,353.67 L109.72,353.51 L109.85,353.35 L109.99,353.19 L110.12,353.03 L110.26,352.88 L110.40,352.72 L110.54,352.57 L112.75,354.87 L113.98,356.02 L114.76,356.66 L115.37,357.10 L115.86,357.41 L116.28,357.64 L116.65,357.80 L116.97,357.91 L117.25,357.98 L117.50,358.01 L117.72,358.00 L117.92,357.96 L118.08,357.88 L118.22,357.78 L118.34,357.64 L118.43,357.48 L118.50,357.28 L118.55,357.04 L118.56,356.77 L118.55,356.45 L118.50,356.09 L118.41,355.67 L118.27,355.18 L118.07,354.59 L117.77,353.87 L117.32,352.93 L116.47,351.42 L114.75,348.67 L114.91,348.54 L115.07,348.42 L115.24,348.30 L115.40,348.18 L115.57,348.06 L115.73,347.94 L115.90,347.82 L116.07,347.71 L116.23,347.59 L116.40,347.48 L116.57,347.36 Z" fill="#fff" stroke="#222" stroke-width="1.65" stroke-linejoin="round"/>
<ellipse cx="150.6" cy="402" rx="25.5" ry="36.5" fill="none" stroke="#888" stroke-width="0.8" transform="rotate(-33 150.6 402)"/>
<ellipse cx="149.3" cy="402.6" rx="11.5" ry="14.5" fill="none" stroke="#777" stroke-width="1.0" transform="rotate(-33 149.3 402.6)"/>
<ellipse cx="148.8" cy="402.5" rx="8.2" ry="11.3" fill="none" stroke="#222" stroke-width="1.6" transform="rotate(-33 148.8 402.5)"/>
<path d="M144,396 C150,398 153,404 153,410" fill="none" stroke="#555" stroke-width="0.8" />
<path d="M62.5,432 C62,427 66,423.5 70,422.5 C74,421.2 78,420.8 81,422.5 C84.5,425 87.5,430 87.8,435 C87.5,439 85.5,441.5 81,443 C77,444.5 73,445.8 69.5,445 C65,443.5 62.8,438 62.5,432 Z" fill="none" stroke="#222" stroke-width="1.5" />
<ellipse cx="70.3" cy="435.2" rx="4.2" ry="5.3" fill="none" stroke="#444" stroke-width="1.2" transform="rotate(-15 70.3 435.2)"/>
<path d="M70,433 C71.5,434 72,437 71.5,439" fill="none" stroke="#777" stroke-width="0.7" />
<path d="M73,422.2 C77,426 79,433 78.5,438 C78,441.5 76,444 73,445.3" fill="none" stroke="#555" stroke-width="1.0" />
<path d="M164.5,189 C163.5,178 164,165 166,155.5 L178,151 C178.5,160 177,175 175.5,188" fill="none" stroke="#222" stroke-width="1.4" />
<path d="M175,188 C171,192 166,193 161,193.5 C157,195 154.5,201 154,208 C153.5,218 156,230 161,240 C166,251 174,263 184,275 C191,284 197,290 204,295.5 L224.5,292.5 C226,286 226,281 224.5,276.5 L216,270 C212,262 208,252 203,243 C196,230 190,218 187,206 C188,200 189,195 186,190 C183,187 179,187 175,188 Z" fill="none" stroke="#222" stroke-width="1.5" />
<ellipse cx="165" cy="199.5" rx="3.0" ry="3.4" fill="none" stroke="#222" stroke-width="1.2"/>
<path d="M176,190.5 C176,196 178,201 182,202 C185.5,202.5 188,199 188,195" fill="none" stroke="#333" stroke-width="1.1" />
<path d="M168.5,205 C169,216 173,228 180,240 C185,249 190,257 196,265" fill="none" stroke="#333" stroke-width="1.1" />
<path d="M176,203 C177,214 181,226 188,238 C192,246 197,253 202,259" fill="none" stroke="#444" stroke-width="1.0" />
<path d="M193,262 L217,255 A2,2 0 0 1 218,258 L195,265 A2,2 0 0 1 193,262 Z" fill="none" stroke="#222" stroke-width="1.0" />
<path d="M195,268 L219,261 A2,2 0 0 1 220,264 L197,271 A2,2 0 0 1 195,268 Z" fill="none" stroke="#222" stroke-width="1.0" />
<path d="M197,274 L221,267 A2,2 0 0 1 222,270 L199,277 A2,2 0 0 1 197,274 Z" fill="none" stroke="#222" stroke-width="1.0" />
<path d="M199,279 L223,272 A2,2 0 0 1 224,275 L201,282 A2,2 0 0 1 199,279 Z" fill="none" stroke="#222" stroke-width="1.0" />
<path d="M205,281 L207,295 M213,279 L216,293" fill="none" stroke="#444" stroke-width="1.0" />
<g transform="translate(0 0)"><path d="M402,185.6 C398,185 392,184 389.5,181.5 C387,178.5 389,174.5 394,174 L407.5,175 L417.1,178 L426.75,207 L447.4,205.6 L462.5,198 C468,198.5 474,200.5 477,203.5 C479.5,206.5 478,210 474.9,211.2 L470,212.5 L479,221.4 C480.5,226 480.5,231 479.7,234.5 C479,238 477,240 473,240.2 C469.5,240 468,236 467.3,232.4 L465.25,228.25 L439.1,226.9 L409.6,213 Z" fill="#fff" stroke="#222" stroke-width="1.3" stroke-linejoin="round"/><ellipse cx="399.9" cy="178.3" rx="5.8" ry="2.6" fill="none" stroke="#222" stroke-width="1.3"/><ellipse cx="468" cy="206.6" rx="5.8" ry="2.5" fill="none" stroke="#222" stroke-width="1.3"/><ellipse cx="474.2" cy="233" rx="2.2" ry="2.8" fill="none" stroke="#222" stroke-width="1.1"/><path d="M426.75,207 L432.5,208.5 L443.3,210.3 L439.1,226.9 M447.4,205.6 L443.3,210.3 M447.4,205.6 L459.5,212.5 L457,219 L440.5,226 M459.5,212.5 L470,212.5" fill="none" stroke="#333" stroke-width="1.0" stroke-linejoin="round"/><path d="M417.1,178 L409,185 M426.75,207 L411,211" fill="none" stroke="#999" stroke-width="0.8"/></g>
<g transform="translate(116 -50)"><path d="M402,185.6 C398,185 392,184 389.5,181.5 C387,178.5 389,174.5 394,174 L407.5,175 L417.1,178 L426.75,207 L447.4,205.6 L462.5,198 C468,198.5 474,200.5 477,203.5 C479.5,206.5 478,210 474.9,211.2 L470,212.5 L479,221.4 C480.5,226 480.5,231 479.7,234.5 C479,238 477,240 473,240.2 C469.5,240 468,236 467.3,232.4 L465.25,228.25 L439.1,226.9 L409.6,213 Z" fill="#fff" stroke="#222" stroke-width="1.3" stroke-linejoin="round"/><ellipse cx="399.9" cy="178.3" rx="5.8" ry="2.6" fill="none" stroke="#222" stroke-width="1.3"/><ellipse cx="468" cy="206.6" rx="5.8" ry="2.5" fill="none" stroke="#222" stroke-width="1.3"/><ellipse cx="474.2" cy="233" rx="2.2" ry="2.8" fill="none" stroke="#222" stroke-width="1.1"/><path d="M426.75,207 L432.5,208.5 L443.3,210.3 L439.1,226.9 M447.4,205.6 L443.3,210.3 M447.4,205.6 L459.5,212.5 L457,219 L440.5,226 M459.5,212.5 L470,212.5" fill="none" stroke="#333" stroke-width="1.0" stroke-linejoin="round"/><path d="M417.1,178 L409,185 M426.75,207 L411,211" fill="none" stroke="#999" stroke-width="0.8"/></g>
<g transform="translate(495.5 245) rotate(14.4)"><path d="M3.2,-4.0 L18.0,-4.0 L18.0,4.0 L3.2,4.0 A3.2,4.0 0 0 1 3.2,-4.0 Z" fill="#fff" stroke="#222" stroke-width="1.25"/><path d="M6.6,-3.2 L6.0,3.2" stroke="#aaa" stroke-width="0.7"/><path d="M9.1,-3.2 L8.5,3.2" stroke="#aaa" stroke-width="0.7"/><path d="M11.6,-3.2 L11.0,3.2" stroke="#aaa" stroke-width="0.7"/><path d="M14.1,-3.2 L13.5,3.2" stroke="#aaa" stroke-width="0.7"/><path d="M17.0,-7.8 L20.0,-7.8 L20.0,7.8 L17.0,7.8 Z" fill="#fff" stroke="#222" stroke-width="1.2"/><ellipse cx="17.0" cy="0" rx="2.3" ry="7.8" fill="#fff" stroke="#222" stroke-width="1.3"/><path d="M19.0,-7.0 L30.6,-7.0 L30.6,7.0 L19.0,7.0 Z" fill="#fff" stroke="#222" stroke-width="1.3"/><ellipse cx="30.6" cy="0" rx="3.5" ry="7.0" fill="#fff" stroke="#222" stroke-width="1.4"/><path d="M29.6,-2.3 L32.1,3.9" stroke="#888" stroke-width="0.7"/></g>
<g transform="translate(613.5 195.5) rotate(15.1)"><path d="M3.2,-4.0 L17.3,-4.0 L17.3,4.0 L3.2,4.0 A3.2,4.0 0 0 1 3.2,-4.0 Z" fill="#fff" stroke="#222" stroke-width="1.25"/><path d="M6.6,-3.2 L6.0,3.2" stroke="#aaa" stroke-width="0.7"/><path d="M8.9,-3.2 L8.3,3.2" stroke="#aaa" stroke-width="0.7"/><path d="M11.3,-3.2 L10.7,3.2" stroke="#aaa" stroke-width="0.7"/><path d="M13.6,-3.2 L13.0,3.2" stroke="#aaa" stroke-width="0.7"/><path d="M16.3,-7.8 L19.3,-7.8 L19.3,7.8 L16.3,7.8 Z" fill="#fff" stroke="#222" stroke-width="1.2"/><ellipse cx="16.3" cy="0" rx="2.3" ry="7.8" fill="#fff" stroke="#222" stroke-width="1.3"/><path d="M18.3,-7.0 L29.1,-7.0 L29.1,7.0 L18.3,7.0 Z" fill="#fff" stroke="#222" stroke-width="1.3"/><ellipse cx="29.1" cy="0" rx="3.5" ry="7.0" fill="#fff" stroke="#222" stroke-width="1.4"/><path d="M28.1,-2.3 L30.6,3.9" stroke="#888" stroke-width="0.7"/></g>
<line x1="474.5" y1="235" x2="494" y2="242" stroke="#555" stroke-width="0.8" stroke-dasharray="3 2"/>
<line x1="590.5" y1="185" x2="612" y2="192.5" stroke="#555" stroke-width="0.8" stroke-dasharray="3 2"/>
<path d="M660.5,287 L662,246" fill="none" stroke="#222" stroke-width="1.5" />
<path d="M654,339 L655,300" fill="none" stroke="#222" stroke-width="1.5" />
<path d="M658,210 C662,208.5 667,207.5 673,207.8 C686,209 694,219 695,234 C695.5,262 692,300 690.5,340" fill="none" stroke="#222" stroke-width="1.4" />
<path d="M654,339 C656,345 668,347 677,346.5 C685,346 690,344 690.5,340" fill="none" stroke="#222" stroke-width="1.4" />
<path d="M410,296 C425,293 445,292.5 462,292 C472,290 485,283 500,276 L540,261 L643,219" fill="none" stroke="#222" stroke-width="1.4" />
<path d="M398,334 C408,326 416,321.5 432,319.5 C445,318 458,318 470,316.5 C485,313 500,307 510,304 L540,292 L637,251 C648,246.5 657,244 663,243 C667,243 669,245 670,248" fill="none" stroke="#222" stroke-width="1.4" />
<path d="M641,245.5 L645.5,212 C646,205.5 649.5,203.2 653,203.6 C656.5,204.2 658.6,207 658.2,211 L654.2,243" fill="#fff" stroke="#222" stroke-width="1.3" />
<ellipse cx="651.5" cy="210.4" rx="2.2" ry="3.6" fill="none" stroke="#222" stroke-width="1.1" transform="rotate(20 651.5 210.4)"/>
<path d="M770,241.5 L692,274 L650,292 L610,308.7 C603,311.5 598,313.5 594,317 C590,320 588,324 587,329 C586,336 585,342 583.5,349 C582,353 580,355 577,356" fill="none" stroke="#222" stroke-width="1.4" />
<path d="M770,263.5 L692,296.5 L615,326 C612,328 610,331 608.5,335 C607,340 606.5,344 605.5,349 C604,355 601,359 597,364 C593,368 590,370 586,371" fill="none" stroke="#222" stroke-width="1.4" />
<path d="M544,358 C546,355.5 550,355 556,356.5 L566,358 C572,359.5 577,361.5 580,364 C583,366.5 584.5,371 584,376 C583.5,380 581,381.5 577,381.5 L566,381 C560,380 556,378 552,375.5 L545.5,369 C542,366 541.5,361 544,358 Z" fill="#fff" stroke="#222" stroke-width="1.4" />
<ellipse cx="547.8" cy="364.2" rx="2.6" ry="4.4" fill="none" stroke="#222" stroke-width="1.3" transform="rotate(-20 547.8 364.2)"/>
<ellipse cx="562.5" cy="371" rx="4" ry="5.6" fill="none" stroke="#222" stroke-width="1.2" transform="rotate(-20 562.5 371)"/>
<ellipse cx="577" cy="373.2" rx="2.6" ry="4.4" fill="none" stroke="#222" stroke-width="1.3" transform="rotate(-20 577 373.2)"/>
<line x1="560" y1="375" x2="535" y2="385" stroke="#777" stroke-width="0.8" />
<g transform="translate(582.5 301.5) rotate(-16.7)"><path d="M2.4,-3.0 L13.2,-3.0 L13.2,3.0 L2.4,3.0 A2.4,3.0 0 0 1 2.4,-3.0 Z" fill="#fff" stroke="#222" stroke-width="1.25"/><path d="M5.7,-2.2 L5.1,2.2" stroke="#aaa" stroke-width="0.7"/><path d="M7.2,-2.2 L6.6,2.2" stroke="#aaa" stroke-width="0.7"/><path d="M8.8,-2.2 L8.2,2.2" stroke="#aaa" stroke-width="0.7"/><path d="M10.3,-2.2 L9.7,2.2" stroke="#aaa" stroke-width="0.7"/><path d="M12.2,-5.6 L15.2,-5.6 L15.2,5.6 L12.2,5.6 Z" fill="#fff" stroke="#222" stroke-width="1.2"/><ellipse cx="12.2" cy="0" rx="1.7" ry="5.6" fill="#fff" stroke="#222" stroke-width="1.3"/><path d="M14.2,-5.0 L21.8,-5.0 L21.8,5.0 L14.2,5.0 Z" fill="#fff" stroke="#222" stroke-width="1.3"/><ellipse cx="21.8" cy="0" rx="2.5" ry="5.0" fill="#fff" stroke="#222" stroke-width="1.4"/><path d="M20.8,-1.7 L23.3,2.8" stroke="#888" stroke-width="0.7"/></g>
<line x1="581" y1="302.5" x2="569" y2="307.5" stroke="#666" stroke-width="0.8" stroke-dasharray="3 2"/>
<line x1="569" y1="307.5" x2="569" y2="355" stroke="#666" stroke-width="0.8" stroke-dasharray="3 2"/>
<g transform="translate(429 272.5) rotate(-14.9)"><path d="M2.6,-3.2 L12.6,-3.2 L12.6,3.2 L2.6,3.2 A2.6,3.2 0 0 1 2.6,-3.2 Z" fill="#fff" stroke="#222" stroke-width="1.25"/><path d="M5.9,-2.4000000000000004 L5.3,2.4000000000000004" stroke="#aaa" stroke-width="0.7"/><path d="M7.2,-2.4000000000000004 L6.6,2.4000000000000004" stroke="#aaa" stroke-width="0.7"/><path d="M8.6,-2.4000000000000004 L8.0,2.4000000000000004" stroke="#aaa" stroke-width="0.7"/><path d="M10.0,-2.4000000000000004 L9.4,2.4000000000000004" stroke="#aaa" stroke-width="0.7"/><path d="M11.6,-5.8 L14.6,-5.8 L14.6,5.8 L11.6,5.8 Z" fill="#fff" stroke="#222" stroke-width="1.2"/><ellipse cx="11.6" cy="0" rx="1.7" ry="5.8" fill="#fff" stroke="#222" stroke-width="1.3"/><path d="M13.6,-5.2 L20.7,-5.2 L20.7,5.2 L13.6,5.2 Z" fill="#fff" stroke="#222" stroke-width="1.3"/><ellipse cx="20.7" cy="0" rx="2.6" ry="5.2" fill="#fff" stroke="#222" stroke-width="1.4"/><path d="M19.7,-1.7 L22.2,2.9" stroke="#888" stroke-width="0.7"/></g>
<line x1="428" y1="276" x2="417" y2="279.6" stroke="#666" stroke-width="0.8" stroke-dasharray="3 2"/>
<line x1="417" y1="279.6" x2="417" y2="295" stroke="#666" stroke-width="0.8" stroke-dasharray="3 2"/>
<path d="M381,309 C388,305 395,301 400,298 C402,295 405,294 408,296 C411,298 412,302 410,308 L406,324 C404,329 400,333 395,336" fill="none" stroke="#222" stroke-width="1.5" />
<ellipse cx="385" cy="322.5" rx="10.5" ry="14.5" fill="#fff" stroke="#222" stroke-width="1.5" transform="rotate(-12 385 322.5)"/>
<ellipse cx="386" cy="322.5" rx="8.2" ry="12.2" fill="none" stroke="#444" stroke-width="1.0" transform="rotate(-12 386 322.5)"/>
<path d="M404,301 C405,303 405,305 404,306" fill="none" stroke="#222" stroke-width="1.2" />
<ellipse cx="362.8" cy="335.8" rx="14.8" ry="17.8" fill="#fff" stroke="#222" stroke-width="1.4" transform="rotate(-10 362.8 335.8)"/>
<ellipse cx="363" cy="335.5" rx="11.6" ry="14.6" fill="none" stroke="#222" stroke-width="1.3" transform="rotate(-10 363 335.5)"/>
<path d="M355,332 L366,327 M358,343 L366,347" fill="none" stroke="#777" stroke-width="0.7" />
<line x1="352" y1="342" x2="524" y2="391" stroke="#777" stroke-width="0.8" stroke-dasharray="8 3 2 3"/>
<path d="M449,370 L524,391 L503,399.5" fill="none" stroke="#8a8a8a" stroke-width="0.8" />
<path d="M500,407.5 L537.5,424" fill="none" stroke="#8a8a8a" stroke-width="0.8" />
<path d="M506,404 L440,376 C432,372.5 428,370 421,370 C412,370.5 405,378 403.5,388 C402.5,397 405,404 410,409 C416,414 424,417 433,420.5 L444,426" fill="none" stroke="#222" stroke-width="1.4" />
<path d="M506,404 L539,400" fill="none" stroke="#222" stroke-width="1.2" />
<path d="M247.2,417.5 C250,413 254,410.5 262,408.5 C275,407 290,409 301,413.7 L330,424 L370,434 L386,437" fill="none" stroke="#222" stroke-width="1.3" />
<path d="M241,422.5 C239,426 239,432 243.5,436.2 C248,439.5 258,440 264.7,435 C266.5,433 268,431.5 269.7,432.5 L300,439 L350,448 L366,452" fill="none" stroke="#222" stroke-width="1.3" />
<path d="M241,423 C246,419 255,418.5 260,421 C264,423 266,427 265.5,431" fill="none" stroke="#444" stroke-width="1.0" />
<path d="M379.5,441.7 C368,448 359,458 355,468 C352,476 351.5,486 352,495 C353,512 358,528 366,540 C373,551 382,561 394.5,572 C405,578 418,583 429,584.8 C440,585.5 450,583 459,578" fill="none" stroke="#222" stroke-width="1.5" />
<path d="M378,552 C392,566 420,576 450,577" fill="none" stroke="#aaa" stroke-width="0.8" />
<path d="M254,396 L252.9,362.5 C253,357 256,353.8 261,352 C266,350.8 272,350.5 278,350.6 C285,351.5 292,353.5 300.4,358.7 L301,373.7" fill="#fff" stroke="#222" stroke-width="1.4" />
<path d="M254,396 C254,399 255,400.5 256.6,401.2 C260,403.5 266,404.5 273.5,405 L302,410 L310,413" fill="none" stroke="#222" stroke-width="1.3" />
<ellipse cx="272.2" cy="360" rx="12.5" ry="5" fill="none" stroke="#222" stroke-width="1.4"/>
<path d="M252.9,362.5 C255,366 258,368 261,368.7 C270,370 282,369 291,365 C293,367 293,368.5 292.9,370" fill="none" stroke="#333" stroke-width="1.1" />
<path d="M266.6,368.7 L267,377" fill="none" stroke="#8a8a8a" stroke-width="0.8" />
<path d="M292.9,370 C294,373 296,376 298,376.5 C302,380 306,382 310,384 C318,387 324,389 330,390 C340,391.5 350,392.5 356,393 C360,395 363,397 366,398 L390,408 L420,420 L440,424 L450,426" fill="none" stroke="#222" stroke-width="1.4" />
<path d="M267.2,377.5 C275,381 283,385 290,389 L310,397 L330,406 L354,415 L390,429" fill="none" stroke="#333" stroke-width="1.2" />
<path d="M259.7,387.5 C270,392 280,396 290,400 L302,406 L330,410 L360,420 L390,432 L402,432" fill="none" stroke="#333" stroke-width="1.2" />
<path d="M290,410 L310,414 L350,422 L386,434" fill="none" stroke="#555" stroke-width="1.0" />
<path d="M398,430 L450,436" fill="none" stroke="#222" stroke-width="1.2" />
<path d="M301,405 L311,401.3 L327,406.3 L321,411.3 L301,410 Z" fill="#fff" stroke="#222" stroke-width="1.1" />
<path d="M311,401.3 L311.5,396" fill="none" stroke="#555" stroke-width="0.9" />
<path d="M443,427 C448,423 455,420.5 462,419 C470,418.5 478,419 485,421.7 C492,424 497,427 500,430 C505,434 508,437 510.5,440.5 L514,448" fill="none" stroke="#222" stroke-width="1.4" />
<path d="M440,428.5 L489.5,430.7 L491.7,445" fill="none" stroke="#222" stroke-width="1.2" />
<path d="M495,457 L533.7,441.4 C536,439 537.5,435 538.5,430 C539.5,425 541,420 542,415" fill="none" stroke="#222" stroke-width="1.4" />
<path d="M499,459 L542.5,443 C546,445 547.5,452 546,462 L497,478" fill="none" stroke="#999" stroke-width="0.9" />
<path d="M385.5,456 L381.7,513.5" fill="none" stroke="#222" stroke-width="1.3" />
<path d="M393,515 L444,491" fill="none" stroke="#222" stroke-width="1.3" />
<path d="M394.5,533 L444,548" fill="none" stroke="#222" stroke-width="1.2" />
<path d="M390,470 L408,482 L398,500 L386,512" fill="none" stroke="#8a8a8a" stroke-width="0.8" />
<path d="M397.5,441 C410,443 425,447 447,456" fill="none" stroke="#999" stroke-width="0.8" />
<path d="M399,447.5 L407.5,481 L390,510 M404,452.5 L414,477.5 L395,505" fill="none" stroke="#999" stroke-width="0.9" />
<path d="M401,515 L458,500 M400,526 C420,522 440,520 460,521" fill="none" stroke="#999" stroke-width="0.9" />
<path d="M389,458 L386.5,513" fill="none" stroke="#999" stroke-width="0.8" />
<path d="M395,520 L446,497" fill="none" stroke="#999" stroke-width="0.9" />
<path d="M405,462 C420,470 432,478 444,486" fill="none" stroke="#8a8a8a" stroke-width="0.8" />
<path d="M400,540 C420,548 440,552 455,553 M396,525 C420,525 440,527 465,530" fill="none" stroke="#8a8a8a" stroke-width="0.8" />
<path d="M370.5,517 C375,513 383,511.5 390,512.5 C395,515 396,522 395,528 C394,533 390,536 384,536.5 L372,537" fill="#fff" stroke="#222" stroke-width="1.2" />
<path d="M488,502.7 C493,504 497,508 499,512 C502,518 503,525 503,532 C503,540 501.5,545 498,550 C494,553 490,553.5 486.5,553" fill="none" stroke="#222" stroke-width="1.4" />
<path d="M456.5,562 L533,530.5 C535,528 536,526 536,523 L536,490 C535.5,482 533,477 530,473.5" fill="none" stroke="#222" stroke-width="1.4" />
<path d="M536,509.5 C543,500 550,490 560,479.5" fill="none" stroke="#222" stroke-width="1.3" />
<path d="M497,551.5 C494,560 488,567 478,573 C470,577 464,578 459,578" fill="none" stroke="#222" stroke-width="1.4" />
<path d="M495.5,478 L551,463" fill="none" stroke="#8a8a8a" stroke-width="0.8" />
<g transform="translate(381 448) rotate(-8)"><path d="M0,-7.9 L14,-7.3 A3.6,7.3 0 0 1 14,7.3 L0,7.9" fill="#fff" stroke="#222" stroke-width="1.3"/><ellipse cx="0" cy="0" rx="5.4" ry="7.9" fill="#fff" stroke="#222" stroke-width="1.4"/></g>
<g transform="translate(450 485) rotate(-8)"><path d="M0,-8.2 L9,-7.5 A3.7,7.5 0 0 1 9,7.5 L0,8.2" fill="#fff" stroke="#222" stroke-width="1.3"/><ellipse cx="0" cy="0" rx="5.6" ry="8.2" fill="#fff" stroke="#222" stroke-width="1.4"/></g>
<g transform="translate(369.8 529.3) rotate(-15)"><path d="M0,-6.5 L12,-6.0 A2.9,6.0 0 0 1 12,6.0 L0,6.5" fill="#fff" stroke="#222" stroke-width="1.3"/><ellipse cx="0" cy="0" rx="4.4" ry="6.5" fill="#fff" stroke="#222" stroke-width="1.4"/></g>
<g transform="translate(371.5 549.5) rotate(-12)"><path d="M0,-7.4 L20,-6.8 A3.3,6.8 0 0 1 20,6.8 L0,7.4" fill="#fff" stroke="#222" stroke-width="1.3"/><ellipse cx="0" cy="0" rx="5.0" ry="7.4" fill="#fff" stroke="#222" stroke-width="1.4"/></g>
<g transform="translate(448.5 553.5) rotate(-10)"><path d="M0,-8.4 L24,-7.7 A3.8,7.7 0 0 1 24,7.7 L0,8.4" fill="#fff" stroke="#222" stroke-width="1.3"/><ellipse cx="0" cy="0" rx="5.7" ry="8.4" fill="#fff" stroke="#222" stroke-width="1.4"/></g>
<path d="M446,455.5 L474.5,443.5 L492.5,451 L495.5,454 L494.5,466 L492.2,467.5 L492.2,498.4 C489,501.5 485,503 481.9,503.1 L468.7,502.2 C463,501 459,499.5 457.5,497.5 L456.6,466.6 L446.3,461.9 Z" fill="#fff" stroke="#222" stroke-width="1.4" />
<ellipse cx="475.3" cy="456.2" rx="12.7" ry="4.6" fill="none" stroke="#222" stroke-width="1.3"/>
<path d="M456.6,466.6 C468,469.5 482,469.5 492.2,467.5" fill="none" stroke="#444" stroke-width="1.0" />
<path d="M540,403.75 C538,398 543,394 550,394 L585,392.5 C590,391 594,389 595,385 L595,378 C598,373 606,372 620,372.5 C626,373 630,376 630,381 L630,412 C626,415 622,416 616,416 L614,414 C605,416 598,418 592,419 L560,421 C550,420 542,416 540,410 Z" fill="#fff" stroke="#222" stroke-width="1.4" />
<ellipse cx="565" cy="405" rx="14.4" ry="5.2" fill="none" stroke="#222" stroke-width="1.3"/>
<ellipse cx="600" cy="396" rx="7.5" ry="3.5" fill="none" stroke="#222" stroke-width="1.2"/>
<ellipse cx="612.5" cy="378.8" rx="9" ry="4" fill="none" stroke="#222" stroke-width="1.2"/>
<path d="M540,410 C545,418 556,421 570,421 C590,420 605,414 615,405 C622,398 628,390 630,381" fill="none" stroke="#333" stroke-width="1.1" />
<path d="M580,421 C577,440 571,455 563,468 C556,478 548,484 540,488" fill="none" stroke="#222" stroke-width="1.4" />
<path d="M595,419 L597.5,447.5 C606,443 615,447 619,455 C623,465 621,478 614,484 C606,489 595,489 587.5,485 L565,477" fill="none" stroke="#222" stroke-width="1.4" />
<ellipse cx="603" cy="467.5" rx="15" ry="19.5" fill="none" stroke="#777" stroke-width="0.9"/>
<path d="M612.5,410 L612.5,442" fill="none" stroke="#333" stroke-width="1.1" />
<path d="M257,467.5 L257,470.5 A16,6.5 0 0 0 289,470.5 L289,467.5" fill="none" stroke="#222" stroke-width="1.4" />
<ellipse cx="273" cy="467.5" rx="16" ry="6.5" fill="none" stroke="#222" stroke-width="1.5"/>
<ellipse cx="273" cy="468.6" rx="10" ry="3.3" fill="none" stroke="#222" stroke-width="1.3"/>
<path d="M264.2,484 C264.2,479 281.5,479 281.5,484 L281.5,517 L264.2,517 Z" fill="#fff" stroke="#222" stroke-width="1.4" />
<path d="M265,487 C270,489.2 276,489.2 281,487" fill="none" stroke="#999" stroke-width="0.7" />
<path d="M265,491 C270,493.2 276,493.2 281,491" fill="none" stroke="#999" stroke-width="0.7" />
<path d="M265,495 C270,497.2 276,497.2 281,495" fill="none" stroke="#999" stroke-width="0.7" />
<path d="M265,499 C270,501.2 276,501.2 281,499" fill="none" stroke="#999" stroke-width="0.7" />
<path d="M265,503 C270,505.2 276,505.2 281,503" fill="none" stroke="#999" stroke-width="0.7" />
<path d="M260,518 C260,514.5 264,514 265,514 L281,514 C284,514 286,515 286,518 L286,527 C286,531 280,532 273,532 C265,532 260,531 260,527 Z" fill="#fff" stroke="#222" stroke-width="1.5" />
<path d="M260,519.5 C265,522 281,522 286,519.5" fill="none" stroke="#444" stroke-width="1.0" />
<path d="M264.2,514 L264.2,517 M281.5,514 L281.5,517" fill="none" stroke="#222" stroke-width="1.2" />
<rect x="650" y="505.5" width="123.3" height="80.5" fill="none" stroke="#8a8a8a" stroke-width="1"/>
<text x="662.5" y="597" font-size="12" font-weight="normal" fill="#555" textLength="55" lengthAdjust="spacingAndGlyphs">00010538</text>
<path d="M652.6,562.4 L653.4,555.7 L660.2,548.9 L672.0,542.2 L678.7,538.0 L693.9,527.0 L709.1,517.7 L722.6,511.8 L739.5,506.7 L753.0,507.6 L766.5,516.0 L770.7,523.6 L773.2,530.4 L769.9,538.8 L761.4,543.0 L746.2,550.6 L732.7,557.4 L712.5,567.5 L704.1,570.9 L695.6,575.9 L690.6,579.3 L678.7,577.6 L665.2,572.6 L655.1,567.5 L652.6,562.4" fill="none" stroke="#7a7a7a" stroke-width="0.9" stroke-linejoin="round"/>
<path d="M678.7,538.8 L693.9,527.0 L715.9,538.8 L705.7,555.7" fill="none" stroke="#7a7a7a" stroke-width="0.9" stroke-linejoin="round"/>
<path d="M693.9,527.0 L722.6,511.8 L739.5,518.6 L746.2,523.6" fill="none" stroke="#7a7a7a" stroke-width="0.9" stroke-linejoin="round"/>
<path d="M724.3,512.7 L742.9,521.9 L758.1,525.3 L766.5,520.2" fill="none" stroke="#7a7a7a" stroke-width="0.9" stroke-linejoin="round"/>
<path d="M736.1,507.6 L746.2,516.9 L756.4,523.6" fill="none" stroke="#7a7a7a" stroke-width="0.9" stroke-linejoin="round"/>
<path d="M715.9,538.8 L729.4,530.4 L746.2,527.0 L751.3,530.4 L739.5,538.8 L719.2,550.6 L712.5,554.0" fill="none" stroke="#7a7a7a" stroke-width="0.9" stroke-linejoin="round"/>
<path d="M712.5,554.0 L715.9,540.5" fill="none" stroke="#7a7a7a" stroke-width="0.9" stroke-linejoin="round"/>
<path d="M655.1,555.7 L678.7,538.8" fill="none" stroke="#7a7a7a" stroke-width="0.9" stroke-linejoin="round"/>
<path d="M658.5,567.5 L678.7,564.1 L695.6,559.1 L705.7,555.7" fill="none" stroke="#7a7a7a" stroke-width="0.9" stroke-linejoin="round"/>
<path d="M655.1,562.4 L665.2,567.5 L682.1,570.9 L690.6,574.2" fill="none" stroke="#7a7a7a" stroke-width="0.9" stroke-linejoin="round"/>
<path d="M690.6,575.9 L693.9,570.9 L700.7,567.5 L705.7,569.2 L704.1,577.6 L699.0,582.7 L692.2,583.5" fill="none" stroke="#7a7a7a" stroke-width="0.9" stroke-linejoin="round"/>
<path d="M746.2,550.6 L749.6,543.9 L756.4,540.5 L761.4,542.2 L759.7,550.6 L753.0,554.0" fill="none" stroke="#7a7a7a" stroke-width="0.9" stroke-linejoin="round"/>
<path d="M677.1,532.1 L678.7,529.5 L681.3,531.2 L680.4,535.4" fill="none" stroke="#7a7a7a" stroke-width="0.9" stroke-linejoin="round"/>
<path d="M543.70,747 L543.70,775.4 L540.30,775.4 L540.30,752.4 C537.80,754.4 535.30,755.9 532.70,757 L532.70,753.7 C536.30,752 538.70,749.8 540.50,747 Z" fill="#111"/>
<path d="M567.80,747 L567.80,775.4 L564.40,775.4 L564.40,752.4 C561.90,754.4 559.40,755.9 556.80,757 L556.80,753.7 C560.40,752 562.80,749.8 564.60,747 Z" fill="#111"/>
<path d="M640.10,747 L640.10,775.4 L636.70,775.4 L636.70,752.4 C634.20,754.4 631.70,755.9 629.10,757 L629.10,753.7 C632.70,752 635.10,749.8 636.90,747 Z" fill="#111"/>
<path d="M688.30,747 L688.30,775.4 L684.90,775.4 L684.90,752.4 C682.40,754.4 679.90,755.9 677.30,757 L677.30,753.7 C680.90,752 683.30,749.8 685.10,747 Z" fill="#111"/>
<text x="0" y="0" font-size="41.5" font-weight="normal" fill="#111" stroke="#111" stroke-width="0.6" transform="translate(409.8 775.8) scale(1.054 1)">B</text>
<text x="0" y="0" font-size="41.5" font-weight="normal" fill="#111" stroke="#111" stroke-width="0.6" transform="translate(438.1 775.8) scale(1.054 1)">M</text>
<text x="0" y="0" font-size="41.5" font-weight="normal" fill="#111" stroke="#111" stroke-width="0.6" transform="translate(476.0 775.8) scale(1.054 1)">W</text>
<text x="0" y="0" font-size="41.5" font-weight="normal" fill="#111" stroke="#111" stroke-width="0.6" transform="translate(577.2 775.8) scale(1.054 1)">5</text>
<text x="0" y="0" font-size="41.5" font-weight="normal" fill="#111" stroke="#111" stroke-width="0.6" transform="translate(600.2 775.8) scale(1.054 1)">3</text>
<text x="0" y="0" font-size="41.5" font-weight="normal" fill="#111" stroke="#111" stroke-width="0.6" transform="translate(647.3 775.8) scale(1.054 1)">3</text>
<text x="0" y="0" font-size="41.5" font-weight="normal" fill="#111" stroke="#111" stroke-width="0.6" transform="translate(694.8 775.8) scale(1.054 1)">7</text>
<text x="0" y="0" font-size="41.5" font-weight="normal" fill="#111" stroke="#111" stroke-width="0.6" transform="translate(719.3 775.8) scale(1.054 1)">5</text>
<text x="0" y="0" font-size="41.5" font-weight="normal" fill="#111" stroke="#111" stroke-width="0.6" transform="translate(744.5 775.8) scale(1.054 1)">8</text>
<text x="0" y="0" font-size="41.5" font-weight="normal" fill="#111" stroke="#111" stroke-width="0.6" transform="translate(768.5 775.8) scale(1.054 1)">8</text>
</g>
<!-- /DIAGRAM -->
<!-- BMW logo -->
<g id="logo">
<ellipse cx="41.3" cy="763.5" rx="39.5" ry="35.5" fill="url(#ring)"/>
<ellipse cx="40.6" cy="762.8" rx="25.5" ry="22.8" fill="#bbb"/>
<ellipse cx="40.6" cy="762.8" rx="24.6" ry="22" fill="#f4f4f4"/>
<path d="M40.6 762.8 L40.6 740.8 A24.6 22 0 0 0 16 762.8 Z" fill="#3e90d2"/>
<path d="M40.6 762.8 L40.6 784.8 A24.6 22 0 0 0 65.2 762.8 Z" fill="#2f8acb"/>
<line x1="40.6" y1="740.8" x2="40.6" y2="784.8" stroke="#1b3050" stroke-width="1"/>
<line x1="16" y1="763.3" x2="65.2" y2="763.3" stroke="#1b3050" stroke-width="1"/>
<g fill="#fff" font-family="Liberation Sans" font-weight="bold" font-size="12.5" text-anchor="middle">
<text x="40.3" y="739" transform="translate(40.3 734.5) scale(1.2 1) translate(-40.3 -734.5)">M</text>
<text x="16" y="748.8" transform="rotate(-50 16 744.3)">B</text>
<text x="65.4" y="748.8" transform="rotate(50 65.4 744.3)">W</text>
</g>
</g>
</svg>
</body></html>
